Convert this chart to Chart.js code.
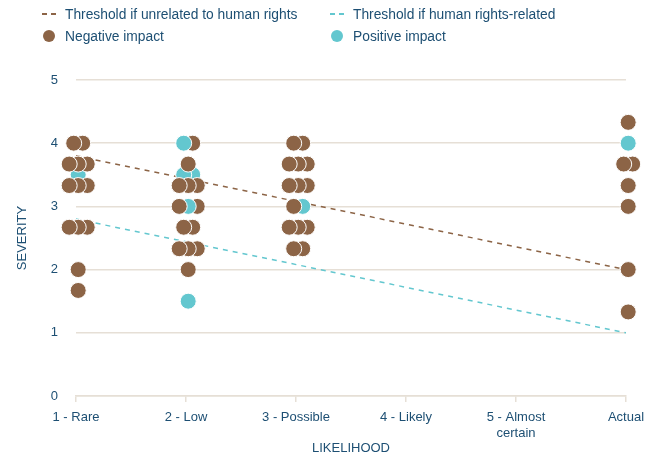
<!DOCTYPE html>
<html>
<head>
<meta charset="utf-8">
<script src="https://cdn.jsdelivr.net/npm/chart.js@4"></script>
<style>
  body { margin: 0; background: #fff; }
  #wrap { position: relative; width: 647px; height: 460px; font-family: 'Liberation Sans', Arial, sans-serif; }
  #legend { position: absolute; left: 0; top: 0; width: 647px; height: 50px; }
  .item { position: absolute; display: flex; align-items: center; height: 16px; font-size: 13.8px; color: #1d4f73; white-space: nowrap; }
  .mark { width: 18px; margin-right: 7px; display: flex; justify-content: center; align-items: center; }
  .dash { width: 14px; height: 1.5px; }
  .dot { width: 12px; height: 12px; border-radius: 50%; }
</style>
</head>
<body>
<div id="wrap">
  <canvas id="riskChart" width="647" height="460"></canvas>
  <div id="legend"></div>
</div>
<script>
// likelihood categories on the x axis
const likelihood = ['1 - Rare', '2 - Low', '3 - Possible', '4 - Likely', ['5 - Almost', 'certain'], 'Actual'];
const severityTicks = [0, 1, 2, 3, 4, 5];

// severity per item, read left to right within each row (N = negative, P = positive)
const rareSeverity = [4, 4, 3.67, 3.67, 3.67, 3.5, 3.33, 3.33, 3.33, 2.67, 2.67, 2.67, 2, 1.67];
const rareImpact   = ['N', 'N', 'N', 'N', 'N', 'P', 'N', 'N', 'N', 'N', 'N', 'N', 'N', 'N'];

const lowSeverity = [4, 4, 3.67, 3.5, 3.5, 3.33, 3.33, 3.33, 3, 3, 3, 2.67, 2.67, 2.33, 2.33, 2.33, 2, 1.5];
const lowImpact   = ['P', 'N', 'N', 'P', 'P', 'N', 'N', 'N', 'N', 'P', 'N', 'N', 'N', 'N', 'N', 'N', 'N', 'P'];

const possibleSeverity = [4, 4, 3.67, 3.67, 3.67, 3.33, 3.33, 3.33, 3, 3, 2.67, 2.67, 2.67, 2.33, 2.33];
const possibleImpact   = ['N', 'N', 'N', 'N', 'N', 'N', 'N', 'N', 'N', 'P', 'N', 'N', 'N', 'N', 'N'];

const actualSeverity = [4.33, 4, 3.67, 3.67, 3.33, 3, 2, 1.33];
const actualImpact   = ['N', 'P', 'N', 'N', 'N', 'N', 'N', 'N'];

// threshold lines, value at '1 - Rare' and at 'Actual'
const thresholdUnrelated = [3.8, 2];
const thresholdRelated = [2.8, 1];

const BROWN = '#8c6446';
const CYAN = '#63c7cf';
const TEXT = '#1d4f73';
const GRID = '#e6dfd6';
const JITTER = 0.082;   // gap between dots sharing a row
const SHIFT = 0.02;     // clusters sit a touch right of their tick
const FONT = "'Liberation Sans', Arial, sans-serif";

const groups = [
  { x: 0, sev: rareSeverity, imp: rareImpact },
  { x: 1, sev: lowSeverity, imp: lowImpact },
  { x: 2, sev: possibleSeverity, imp: possibleImpact },
  { x: 5, sev: actualSeverity, imp: actualImpact }
];

// spread items that share a row side by side
let points = [];
groups.forEach(g => {
  const rows = {};
  g.sev.forEach((s, i) => {
    (rows[s] = rows[s] || []).push(g.imp[i]);
  });
  Object.keys(rows).forEach(s => {
    const items = rows[s];
    items.forEach((kind, i) => {
      points.push({ x: g.x + SHIFT + (i - (items.length - 1) / 2) * JITTER, y: +s, kind: kind });
    });
  });
});
// half rows sit behind, and the left item of a row sits on top
const halfRow = p => p.y % 1 !== 0 && Math.abs(p.y * 2 - Math.round(p.y * 2)) < 0.01;
points.sort((a, b) => (halfRow(b) - halfRow(a)) || (b.x - a.x));

const lastX = likelihood.length - 1;

const chart = new Chart(document.getElementById('riskChart'), {
  type: 'scatter',
  data: {
    datasets: [
      {
        label: 'Impacts',
        data: points,
        backgroundColor: ctx => (ctx.raw && ctx.raw.kind === 'P') ? CYAN : BROWN,
        borderColor: '#ffffff',
        borderWidth: 1,
        pointRadius: 8,
        pointHoverRadius: 8,
        clip: false,
        order: 0
      },
      {
        type: 'line',
        label: 'Threshold if unrelated to human rights',
        data: [{ x: 0, y: thresholdUnrelated[0] }, { x: lastX, y: thresholdUnrelated[1] }],
        borderColor: BROWN,
        borderWidth: 1.5,
        borderDash: [5, 5],
        pointRadius: 0,
        fill: false,
        order: 1
      },
      {
        type: 'line',
        label: 'Threshold if human rights-related',
        data: [{ x: 0, y: thresholdRelated[0] }, { x: lastX, y: thresholdRelated[1] }],
        borderColor: CYAN,
        borderWidth: 1.5,
        borderDash: [5, 5],
        pointRadius: 0,
        fill: false,
        order: 2
      }
    ]
  },
  options: {
    responsive: false,
    animation: false,
    layout: { padding: { top: 80, right: 21, bottom: 0, left: 0 } },
    plugins: {
      legend: { display: false },
      tooltip: { enabled: false }
    },
    scales: {
      x: {
        type: 'linear',
        min: 0,
        max: lastX,
        afterBuildTicks: scale => { scale.ticks = likelihood.map((l, i) => ({ value: i })); },
        afterFit: scale => { scale.height = 64; scale.paddingLeft = 0; scale.paddingRight = 0; },
        ticks: {
          callback: v => likelihood[v],
          color: TEXT,
          font: { family: FONT, size: 13 },
          maxRotation: 0,
          autoSkip: false,
          padding: 8
        },
        grid: { drawOnChartArea: false, drawTicks: true, tickLength: 6, color: GRID, lineWidth: 1.5 },
        border: { display: true, color: GRID, width: 1.5 },
        title: {
          display: true,
          text: 'LIKELIHOOD',
          color: TEXT,
          font: { family: FONT, size: 13 },
          padding: { top: 4, bottom: 4 }
        }
      },
      y: {
        min: 0,
        max: 5,
        afterBuildTicks: scale => { scale.ticks = severityTicks.map(v => ({ value: v })); },
        afterFit: scale => { scale.width = 76; },
        ticks: {
          color: TEXT,
          font: { family: FONT, size: 13 },
          padding: 18
        },
        grid: { color: GRID, lineWidth: 1.5, drawTicks: false },
        border: { display: false },
        title: {
          display: true,
          text: 'SEVERITY',
          color: TEXT,
          font: { family: FONT, size: 13 },
          padding: { top: 15, bottom: 0 }
        }
      }
    }
  }
});

// html legend: line entries on the first row, dot entries on the second
const legendItems = [
  { text: chart.data.datasets[1].label, color: BROWN, type: 'dash', left: 40, top: 6 },
  { text: chart.data.datasets[2].label, color: CYAN, type: 'dash', left: 328, top: 6 },
  { text: 'Negative impact', color: BROWN, type: 'dot', left: 40, top: 28 },
  { text: 'Positive impact', color: CYAN, type: 'dot', left: 328, top: 28 }
];
const legend = document.getElementById('legend');
legendItems.forEach(it => {
  const div = document.createElement('div');
  div.className = 'item';
  div.style.left = it.left + 'px';
  div.style.top = it.top + 'px';
  const mark = document.createElement('span');
  mark.className = 'mark';
  const sym = document.createElement('span');
  sym.className = it.type;
  if (it.type === 'dash') {
    sym.style.background = 'repeating-linear-gradient(to right, ' + it.color + ' 0 5px, transparent 5px 9px)';
  } else {
    sym.style.background = it.color;
  }
  mark.appendChild(sym);
  div.appendChild(mark);
  div.appendChild(document.createTextNode(it.text));
  legend.appendChild(div);
});
</script>
</body>
</html>
